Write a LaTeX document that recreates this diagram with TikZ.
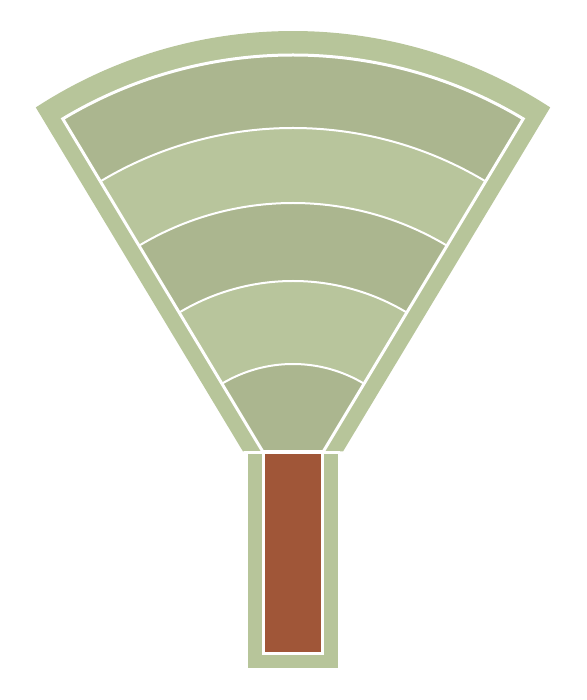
\documentclass[tikz,border=0pt]{standalone}
\definecolor{bordergreen}{RGB}{183,197,154}
\definecolor{darkband}{RGB}{171,182,143}
\definecolor{lightband}{RGB}{184,197,156}
\definecolor{stembrown}{RGB}{160,86,56}
\tikzset{
  outline/.style={draw=white,line width=3pt},
  bandline/.style={draw=white,line width=2pt},
}
\begin{document}
\begin{tikzpicture}[x=1pt,y=1pt]
\useasboundingbox (0,0) rectangle (586,700);
% outer fan border
\begin{scope}[shift={(293,198)}]
  \fill[bordergreen] (-50,50.5) -- (123.1:471pt) arc[start angle=123.1,end angle=56.9,radius=471pt] -- (50,50.5) -- cycle;
\end{scope}
% stem outer
\fill[bordergreen] (248,32) rectangle (338,249);
\begin{scope}[shift={(293,198)}]
  % inner region (dark)
  \fill[darkband] (-30,50) -- (121:447pt) arc[start angle=121,end angle=59,radius=447pt] -- (30,50) -- cycle;
  % light bands
  \fill[lightband] (121:374pt) arc[start angle=121,end angle=59,radius=374pt] -- (59:299pt) arc[start angle=59,end angle=121,radius=299pt] -- cycle;
  \fill[lightband] (121:221pt) arc[start angle=121,end angle=59,radius=221pt] -- (59:138pt) arc[start angle=59,end angle=121,radius=138pt] -- cycle;
  % band arcs
  \foreach \r in {374,299,221,138}
    \draw[bandline] (121:\r pt) arc[start angle=121,end angle=59,radius=\r pt];
  % inner outline
  \draw[outline,line join=miter] (-30,50) -- (121:447pt) arc[start angle=121,end angle=59,radius=447pt] -- (30,50);
\end{scope}
% stem inner
\filldraw[fill=stembrown,outline] (263.5,46.5) rectangle (322.5,248);
% separator
\draw[outline] (244,247.5) -- (340,247.5);
\end{tikzpicture}
\end{document}
